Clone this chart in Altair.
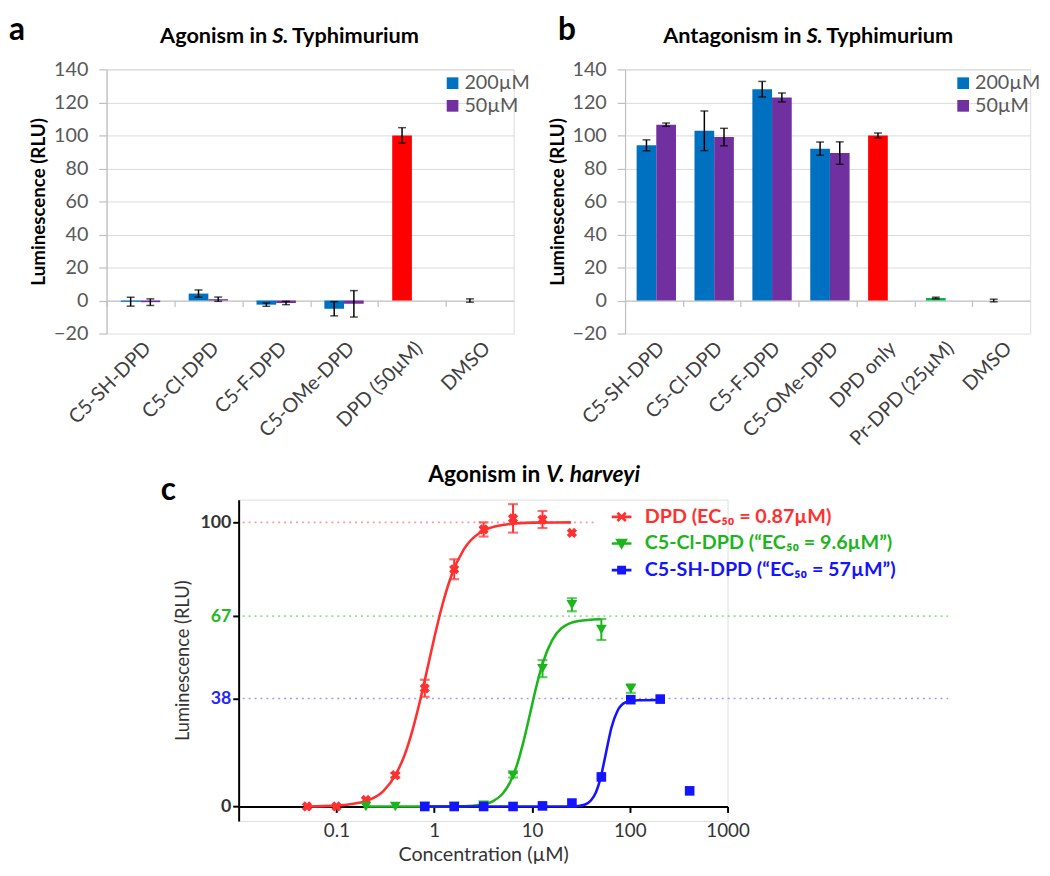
import altair as alt
import pandas as pd

FONT = "Lato"

# ---------------- Panel a data ----------------
a_cats = ["C5-SH-DPD", "C5-Cl-DPD", "C5-F-DPD", "C5-OMe-DPD", "DPD (50µM)", "DMSO"]
a_left_vals = [-0.7, 4.2, -2.5, -5.0, 100.0, 0.0]
a_left_errs = [2.7, 2.2, 1.0, 4.3, 4.7, 1.0]
a_left_groups = ["200µM", "200µM", "200µM", "200µM", "DPD", "200µM"]
a_right_cats = ["C5-SH-DPD", "C5-Cl-DPD", "C5-F-DPD", "C5-OMe-DPD"]
a_right_vals = [-1.0, 0.8, -1.5, -2.0]
a_right_errs = [2.0, 1.3, 1.0, 8.0]

# ---------------- Panel b data ----------------
b_cats = ["C5-SH-DPD", "C5-Cl-DPD", "C5-F-DPD", "C5-OMe-DPD", "DPD only", "Pr-DPD (25µM)", "DMSO"]
b_left_vals = [94.0, 102.8, 128.0, 92.0, 100.0, 1.5, 0.0]
b_left_errs = [3.3, 12.0, 4.7, 4.0, 1.5, 0.5, 0.8]
b_left_groups = ["200µM", "200µM", "200µM", "200µM", "DPD", "Pr-DPD", "200µM"]
b_right_cats = ["C5-SH-DPD", "C5-Cl-DPD", "C5-F-DPD", "C5-OMe-DPD"]
b_right_vals = [106.5, 99.0, 123.0, 89.3]
b_right_errs = [1.0, 5.3, 2.7, 6.8]

group_domain = ["200µM", "50µM", "DPD", "Pr-DPD"]
group_colors = ["#0070C0", "#7030A0", "#FF0000", "#00B050"]

# ---------------- Panel c data ----------------
red_label = "DPD (EC₅₀ = 0.87µM)"
green_label = "C5-Cl-DPD (“EC₅₀ = 9.6µM”)"
blue_label = "C5-SH-DPD (“EC₅₀ = 57µM”)"

red_x = [0.05, 0.1, 0.2, 0.4, 0.8, 1.6, 3.2, 6.4, 12.8, 25.6]
red_y = [0.0, 0.0, 2.3, 11.0, 41.6, 83.5, 97.5, 101.4, 101.0, 96.3]
red_err = [0.0, 0.0, 0.0, 0.8, 3.0, 3.5, 2.5, 5.0, 3.0, 0.0]

green_x = [0.2, 0.4, 0.8, 1.6, 3.2, 6.4, 12.8, 25.6, 51.2, 102.4]
green_y = [0.0, 0.0, 0.0, 0.0, 0.5, 11.0, 48.5, 71.0, 62.3, 41.5]
green_err = [0.0, 0.0, 0.0, 0.0, 0.0, 0.8, 3.0, 2.3, 3.7, 1.5]

blue_x = [0.8, 1.6, 3.2, 6.4, 12.8, 25.6, 51.2, 102.4, 204.8, 409.6]
blue_y = [0.0, 0.0, 0.0, 0.0, 0.2, 1.2, 10.4, 37.6, 37.8, 5.5]

# fitted curves
red_curve_x = [0.05, 0.1, 0.15, 0.2, 0.3, 0.4, 0.5, 0.6, 0.7, 0.87, 1.0, 1.2, 1.5, 2.0, 3.0, 5.0, 10.0, 25.0]
red_curve_y = [0.0, 0.3, 1.0, 1.9, 5.3, 11.0, 18.3, 26.9, 35.8, 50.0, 59.3, 70.4, 81.3, 90.4, 96.6, 99.1, 99.9, 100.0]
green_curve_x = [0.2, 1.0, 2.0, 3.0, 4.0, 5.0, 6.0, 7.0, 8.0, 9.6, 11.0, 13.0, 16.0, 20.0, 30.0, 50.0]
green_curve_y = [0.0, 0.0, 0.1, 0.6, 1.9, 4.5, 8.7, 14.5, 21.5, 33.0, 41.8, 50.9, 58.4, 62.7, 65.3, 65.9]
blue_curve_x = [0.8, 10.0, 20.0, 30.0, 35.0, 40.0, 45.0, 50.0, 57.0, 65.0, 75.0, 90.0, 120.0, 204.8]
blue_curve_y = [0.0, 0.0, 0.0, 0.2, 0.7, 2.1, 4.9, 9.7, 18.75, 27.8, 33.7, 36.6, 37.4, 37.5]

ref_levels = [100, 67, 38]
ref_start = [0.011, 0.011, 0.011]
ref_end = [45.0, 180000.0, 180000.0]
ref_colors = ["#FF9A9A", "#8FE08F", "#9A9AFF"]

RED, GREEN, BLUE = "#FF3030", "#1DB51D", "#1414FF"

one = pd.DataFrame({"k": [0]})


def text_layer(txt, x, y, size, weight="bold", style="normal", align="left",
               baseline="middle", color="black"):
    return alt.Chart(one).mark_text(
        text=txt, font=FONT, fontSize=size, fontWeight=weight, fontStyle=style,
        align=align, baseline=baseline, color=color
    ).encode(x=alt.value(x), y=alt.value(y))


def bar_df(lc, lv, le, lg, rc, rv, re):
    rows = []
    for c, v, e, g in zip(lc, lv, le, lg):
        rows.append(dict(cat=c, slot="s1", group=g, value=v, lo=v - e, hi=v + e))
    for c, v, e in zip(rc, rv, re):
        rows.append(dict(cat=c, slot="s2", group="50µM", value=v, lo=v - e, hi=v + e))
    return pd.DataFrame(rows)


def bar_panel(df, cats, width, height, pinner, letter, letter_x, title1, title2, title3,
              split_x, s_w, legend_x):
    step = width / len(cats)
    x = alt.X("cat:N", sort=cats,
              scale=alt.Scale(paddingInner=pinner, paddingOuter=pinner / 2),
              axis=alt.Axis(title=None, labelAngle=-45, labelFont=FONT, labelFontSize=20,
                            labelColor="#404040", domainColor="#BFBFBF", domainWidth=1.2,
                            tickColor="#BFBFBF", tickWidth=1.2, tickSize=6,
                            offset=-33.5, tickOffset=-step / 2, labelOffset=step / 2,
                            labelPadding=32, labelLimit=300))
    xo = alt.XOffset("slot:N", scale=alt.Scale(domain=["s1", "s2"]))
    yscale = alt.Scale(domain=[-20, 140], nice=False)
    yaxis = alt.Axis(title="Luminescence (RLU)", values=list(range(-20, 141, 20)),
                     grid=True, gridColor="#D9D9D9", gridWidth=1,
                     gridOpacity={"condition": {"test": "datum.value < -10", "value": 0}, "value": 1},
                     domainColor="#BFBFBF", domainWidth=1.2, tickColor="#BFBFBF", tickWidth=1.2,
                     tickSize=8, labelPadding=11, labelFont=FONT, labelFontSize=20,
                     labelColor="#595959", titleFont=FONT, titleFontSize=19,
                     titleFontWeight="bold", titleColor="#000000", titlePadding=5)
    bars = alt.Chart(df).mark_bar().encode(
        x=x, xOffset=xo,
        y=alt.Y("value:Q", scale=yscale, axis=yaxis),
        color=alt.Color("group:N", scale=alt.Scale(domain=group_domain, range=group_colors),
                        legend=alt.Legend(title=None, orient="none", legendX=legend_x, legendY=4,
                                          values=["200µM", "50µM"], symbolType="square",
                                          symbolSize=140, symbolStrokeWidth=0,
                                          labelFont=FONT, labelFontSize=20, labelColor="#595959",
                                          rowPadding=3, labelOffset=2, padding=0))
    )
    err = alt.Chart(df).mark_rule(color="black", strokeWidth=1.5).encode(
        x=x, xOffset=xo, y=alt.Y("lo:Q", scale=yscale, axis=yaxis), y2="hi:Q")
    cap_lo = alt.Chart(df).mark_tick(color="black", thickness=1.5, size=8, orient="horizontal").encode(
        x=x, xOffset=xo, y=alt.Y("lo:Q", scale=yscale, axis=yaxis))
    cap_hi = alt.Chart(df).mark_tick(color="black", thickness=1.5, size=8, orient="horizontal").encode(
        x=x, xOffset=xo, y=alt.Y("hi:Q", scale=yscale, axis=yaxis))
    t_letter = text_layer(letter, letter_x, -29.5, 32, baseline="alphabetic")
    t1 = text_layer(title1, split_x, -34, 22, align="right")
    t2 = text_layer(title2, split_x + 5, -34, 22, style="italic")
    t3 = text_layer(title3, split_x + 5 + s_w, -34, 22)
    return alt.layer(bars, err, cap_lo, cap_hi, t_letter, t1, t2, t3).properties(
        width=width, height=height)


df_a = bar_df(a_cats, a_left_vals, a_left_errs, a_left_groups, a_right_cats, a_right_vals, a_right_errs)
df_b = bar_df(b_cats, b_left_vals, b_left_errs, b_left_groups, b_right_cats, b_right_vals, b_right_errs)

panel_a = bar_panel(df_a, a_cats, 413, 268, 0.42, "a", -99, "Agonism in", "S.", "Typhimurium",
                    163, 20, 341)
panel_b = bar_panel(df_b, b_cats, 411, 268, 0.40, "b", -68, "Antagonism in", "S.", "Typhimurium",
                    179, 20, 333)

# ---------------- Panel c ----------------
xs_c = alt.Scale(type="log", domain=[0.01, 1000], nice=False)
ys_c = alt.Scale(domain=[-5.1, 108], nice=False)
xaxis_c = alt.Axis(title="Concentration (µM)", values=[0.1, 1, 10, 100, 1000], format="~g",
                   offset=-14.7, domainColor="black", domainWidth=2, tickColor="black",
                   tickWidth=2, tickSize=6, labelPadding=9, labelFont=FONT, labelFontSize=19,
                   labelColor="#333333", labelFlush=False, labelOverlap=False,
                   titleFont=FONT, titleFontSize=20,
                   titleFontWeight="normal", titleColor="#333333", titlePadding=5, grid=False)
yaxis_c = alt.Axis(title="Luminescence (RLU)", values=[0, 38, 67, 100], grid=False,
                   domainColor="black", domainWidth=2, tickColor="black", tickWidth=2,
                   tickSize=6, labelPadding=2, labelFont=FONT, labelFontSize=18,
                   labelFontWeight="bold",
                   labelColor={"condition": [{"test": "datum.value == 38", "value": "#2424FF"},
                                             {"test": "datum.value == 67", "value": "#22BB22"}],
                               "value": "#333333"},
                   titleFont=FONT, titleFontSize=18.5, titleFontWeight="normal",
                   titleColor="#333333", titlePadding=8)


def ref_rule(i):
    d = pd.DataFrame({"level": [ref_levels[i]], "x1": [ref_start[i]], "x2": [ref_end[i]]})
    return alt.Chart(d).mark_rule(strokeDash=[2, 4], strokeWidth=1.6, color=ref_colors[i]).encode(
        x=alt.X("x1:Q", scale=xs_c, axis=xaxis_c), x2="x2:Q",
        y=alt.Y("level:Q", scale=ys_c, axis=yaxis_c))


sym_red = "M-1,0H1M-0.42,-0.42L0.42,0.42M0.42,-0.42L-0.42,0.42"
sym_green = "M-1,0H1M-0.42,-0.34H0.42L0,0.38ZM-0.22,-0.2H0.22L0,0.18Z"
sym_blue = "M-1,0H1M-0.32,-0.32H0.32V0.32H-0.32ZM-0.12,-0.12H0.12V0.12H-0.12Z"


def curve(xv, yv, label, color, sym, ly):
    d = pd.DataFrame({"conc": xv, "lum": yv, "series": [label] * len(xv)})
    return alt.Chart(d).mark_line(strokeWidth=2.6, interpolate="monotone").encode(
        x=alt.X("conc:Q", scale=xs_c, axis=xaxis_c),
        y=alt.Y("lum:Q", scale=ys_c, axis=yaxis_c),
        color=alt.Color("series:N", scale=alt.Scale(domain=[label], range=[color]),
                        legend=alt.Legend(title=None, orient="none", legendX=377, legendY=ly,
                                          symbolType=sym, symbolSize=400, symbolStrokeWidth=2.6,
                                          labelFont=FONT, labelFontSize=20,
                                          labelFontWeight="bold", labelColor=color,
                                          labelOffset=12, labelLimit=500, padding=0)))


def errbars(xv, yv, ev, color):
    rows = [dict(conc=a, lo=b - e, hi=b + e) for a, b, e in zip(xv, yv, ev) if e > 0]
    d = pd.DataFrame(rows)
    r = alt.Chart(d).mark_rule(color=color, strokeWidth=2).encode(
        x=alt.X("conc:Q", scale=xs_c, axis=xaxis_c),
        y=alt.Y("lo:Q", scale=ys_c, axis=yaxis_c), y2="hi:Q")
    c1 = alt.Chart(d).mark_tick(color=color, thickness=2.2, size=10, orient="horizontal").encode(
        x=alt.X("conc:Q", scale=xs_c, axis=xaxis_c),
        y=alt.Y("lo:Q", scale=ys_c, axis=yaxis_c))
    c2 = alt.Chart(d).mark_tick(color=color, thickness=2.2, size=10, orient="horizontal").encode(
        x=alt.X("conc:Q", scale=xs_c, axis=xaxis_c),
        y=alt.Y("hi:Q", scale=ys_c, axis=yaxis_c))
    return [r, c1, c2]


def points(xv, yv, color, shape, size, angle=0):
    d = pd.DataFrame({"conc": xv, "lum": yv})
    return alt.Chart(d).mark_point(filled=True, shape=shape, size=size, angle=angle,
                                   color=color, opacity=1).encode(
        x=alt.X("conc:Q", scale=xs_c, axis=xaxis_c),
        y=alt.Y("lum:Q", scale=ys_c, axis=yaxis_c))


layers_c = [ref_rule(0), ref_rule(1), ref_rule(2),
            curve(red_curve_x, red_curve_y, red_label, RED, sym_red, 6),
            curve(green_curve_x, green_curve_y, green_label, GREEN, sym_green, 33),
            curve(blue_curve_x, blue_curve_y, blue_label, BLUE, sym_blue, 60)]
layers_c += errbars(red_x, red_y, red_err, RED)
layers_c += errbars(green_x, green_y, green_err, GREEN)
layers_c += [points(red_x, red_y, RED, "cross", 110, 45),
             points(green_x, green_y, GREEN, "triangle-down", 120),
             points(blue_x, blue_y, BLUE, "square", 95)]
layers_c += [text_layer("c", -79, 0, 32, baseline="alphabetic"),
             text_layer("Agonism in", 306, -25, 23, align="right"),
             text_layer("V. harveyi", 312, -25, 23, style="italic")]

panel_c = alt.layer(*layers_c).resolve_scale(color="independent").properties(width=496, height=326)

spacer = alt.Chart(one).mark_text(text="", opacity=0).encode(
    x=alt.value(0), y=alt.value(0)
).properties(width=114, height=1, view=alt.ViewBackground(stroke="transparent", strokeWidth=0))

row1 = alt.hconcat(panel_a, panel_b, spacing=113, bounds="flush").resolve_scale(color="independent")
row2 = alt.hconcat(spacer, panel_c, spacing=20, bounds="flush").resolve_scale(color="independent")

chart = alt.vconcat(row1, row2, spacing=436.5, bounds="flush").resolve_scale(
    color="independent"
).properties(padding=0).configure_view(strokeWidth=0, stroke="transparent").configure(font=FONT)

chart.save("out.html", embed_options={"renderer": "svg", "actions": False})
